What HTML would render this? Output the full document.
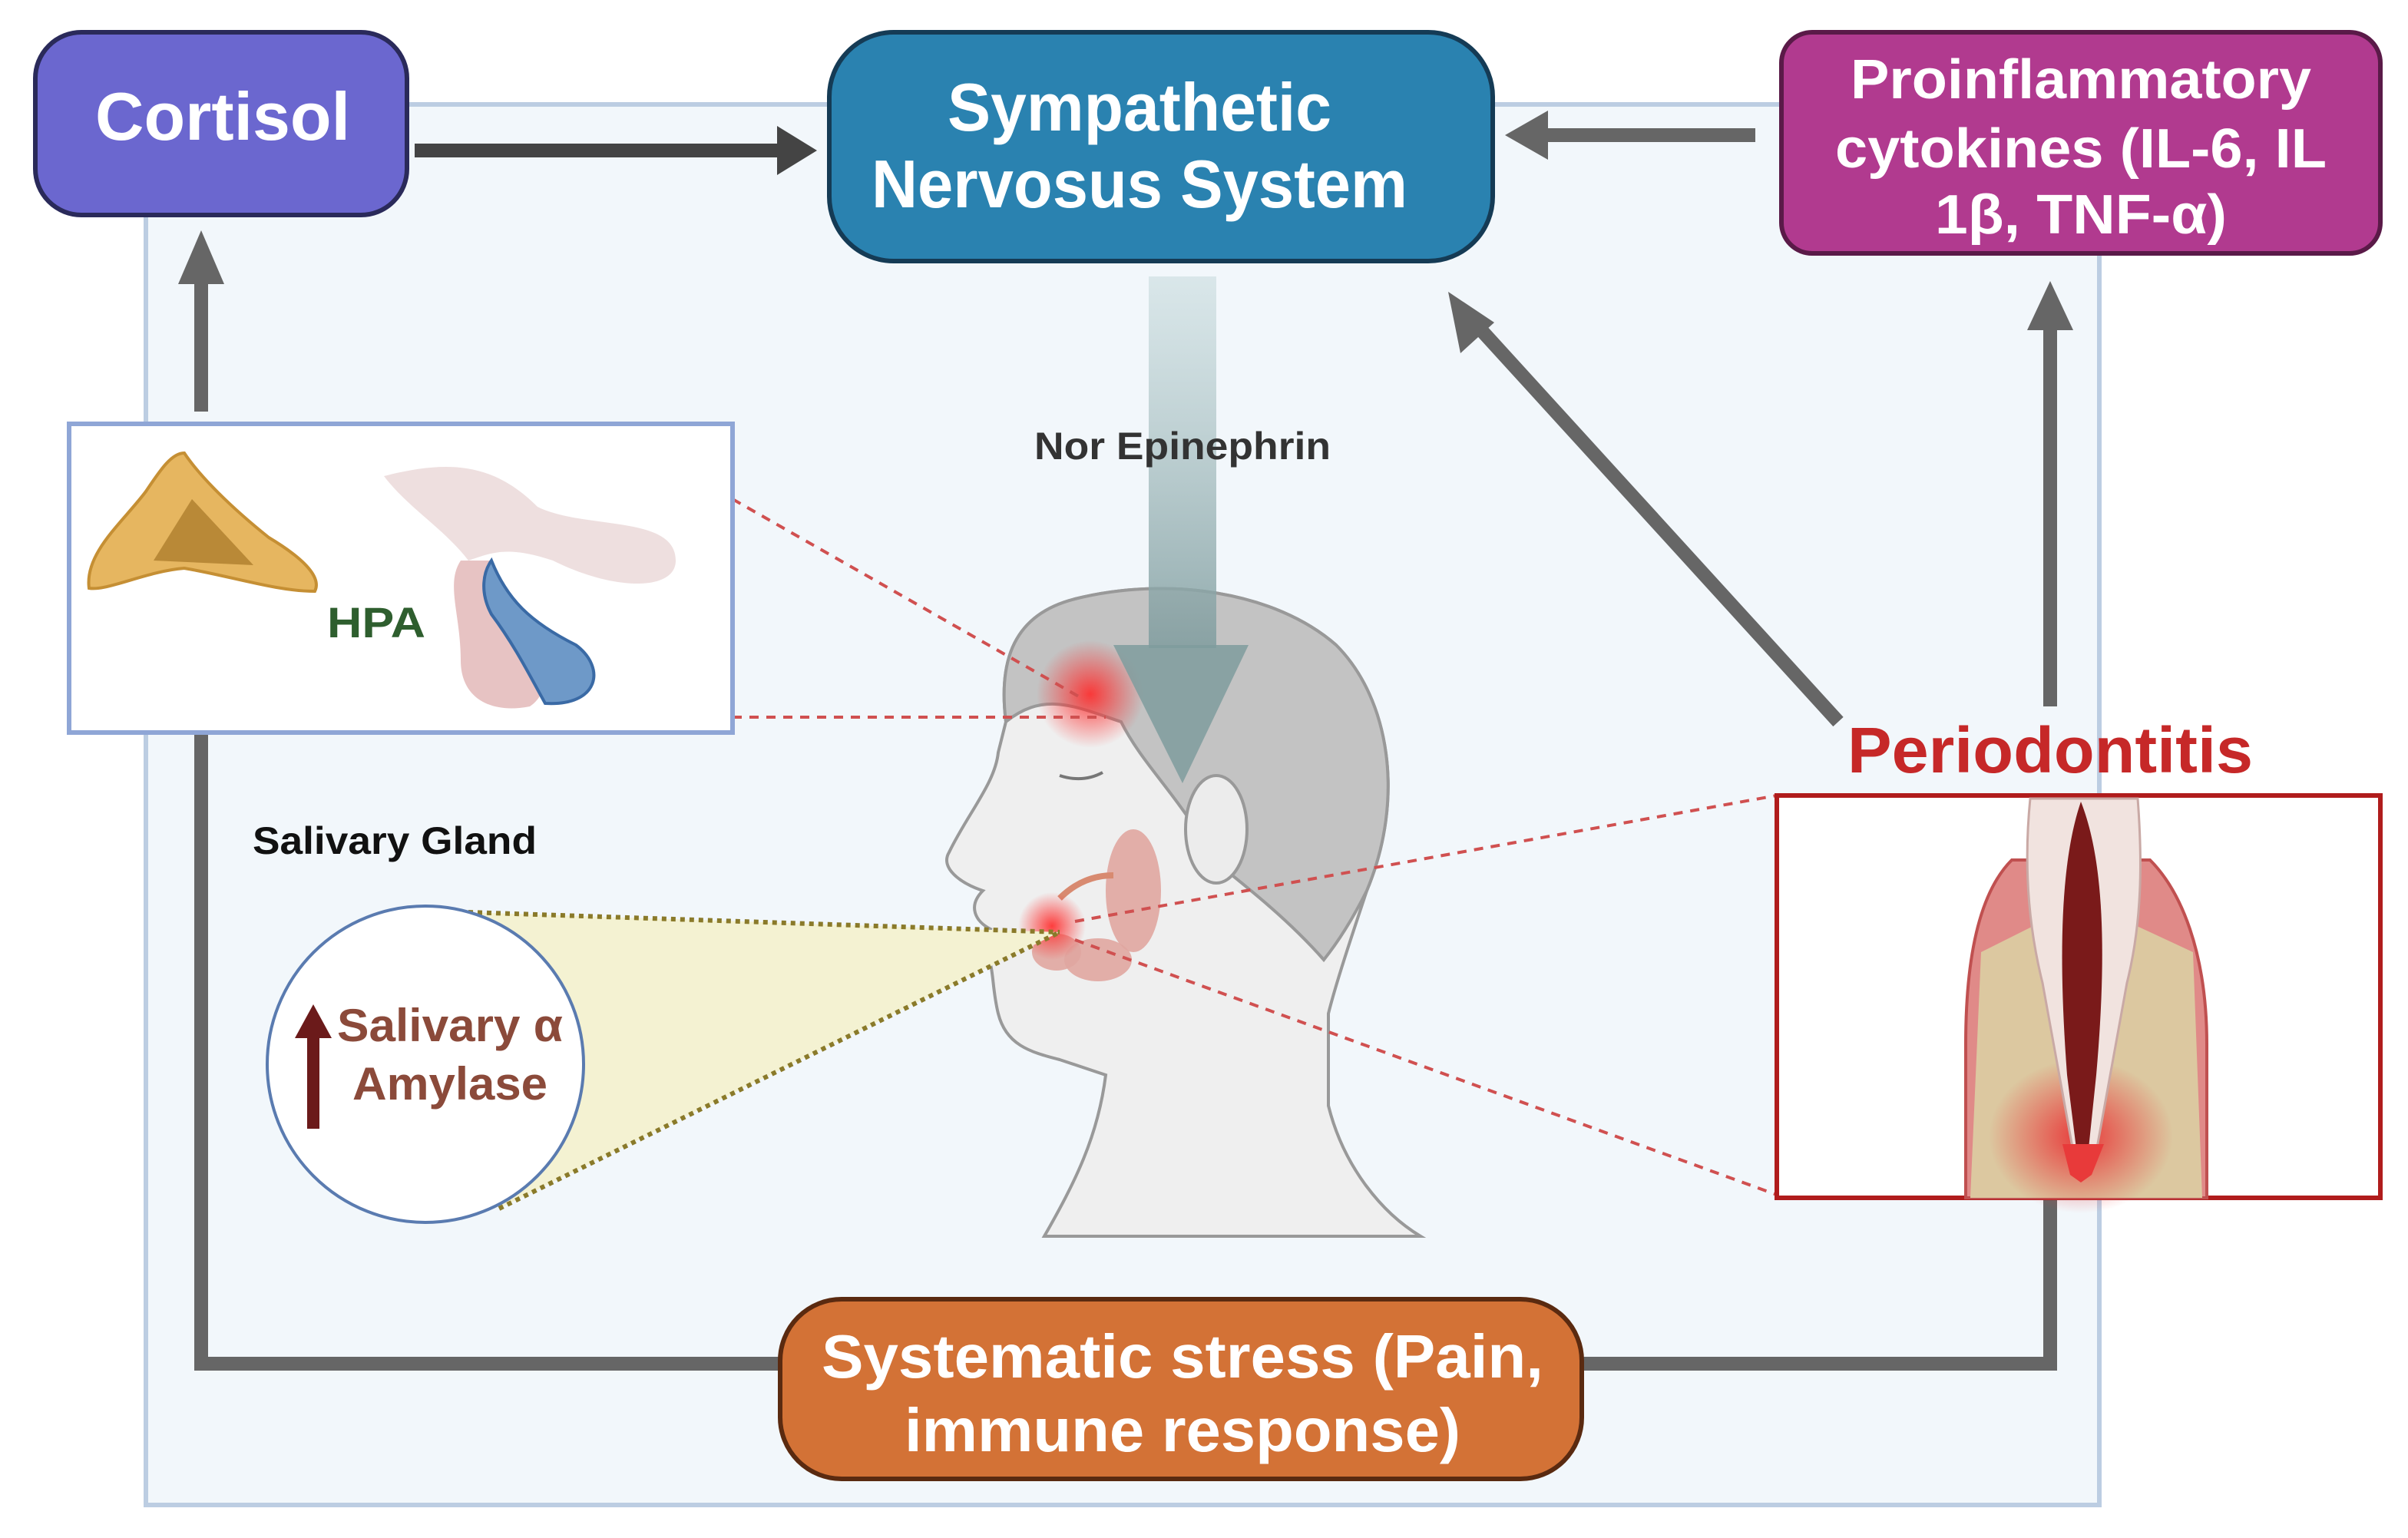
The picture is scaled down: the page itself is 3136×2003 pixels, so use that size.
<!DOCTYPE html>
<html><head><meta charset="utf-8"><style>
html,body{margin:0;padding:0;background:#fff;}
svg{display:block;}
text{font-family:"Liberation Sans",sans-serif;font-weight:bold;}
</style></head><body>
<svg width="3136" height="2003" viewBox="0 0 1568 1001.5" xmlns="http://www.w3.org/2000/svg">
<defs>
<linearGradient id="ne" x1="0" y1="0" x2="0" y2="1">
<stop offset="0" stop-color="#c9dcde" stop-opacity="0.6"/>
<stop offset="1" stop-color="#7f9c9e" stop-opacity="0.85"/>
</linearGradient>
<radialGradient id="glow"><stop offset="0" stop-color="#ff2a2a" stop-opacity="0.9"/><stop offset="1" stop-color="#ff2a2a" stop-opacity="0"/></radialGradient>
<radialGradient id="inf"><stop offset="0" stop-color="#e83a3a"/><stop offset="1" stop-color="#e83a3a" stop-opacity="0"/></radialGradient>
</defs>
<!-- panel -->
<rect x="95" y="68" width="1272" height="912" fill="#f2f7fb" stroke="#bccde2" stroke-width="3"/>

<!-- connectors -->
<g stroke="#666" stroke-width="9" fill="none">
<line x1="131" y1="268" x2="131" y2="175"/>
<polyline points="1335,780 1335,888 131,888 131,420"/>
<line x1="1335" y1="460" x2="1335" y2="210"/>
<line x1="1197" y1="470" x2="960" y2="210"/>
<line x1="1143" y1="88" x2="1005" y2="88"/>
</g>
<line x1="270" y1="98" x2="508" y2="98" stroke="#444" stroke-width="9"/>
<g fill="#666">
<polygon points="131,150 116,185 146,185"/>
<polygon points="131,390 116,425 146,425"/>
<polygon points="1335,183 1320,215 1350,215"/>
<polygon points="943,190 951,230 973,210"/>
<polygon points="980,88 1008,72 1008,104"/>
</g>
<polygon points="532,98 506,82 506,114" fill="#444"/>

<!-- head -->
<g>
<path d="M655,470 C650,430 660,400 700,390 C760,375 830,385 870,420 C905,455 915,520 890,580 C880,610 870,640 865,660 L865,720 C875,760 900,790 925,805 L680,805 C700,770 715,740 720,700 L690,690 C670,685 655,680 650,660 C645,640 648,625 640,620 L645,605 C635,600 630,590 640,580 C625,575 612,565 618,555 C630,530 648,510 650,490 Z" fill="#efefef" stroke="#999" stroke-width="2"/>
<path d="M655,470 C650,430 660,400 700,390 C760,375 830,385 870,420 C905,455 915,520 890,580 C880,600 870,615 862,625 C840,600 815,580 790,560 C770,520 745,500 730,470 C700,460 680,450 655,470 Z" fill="#c3c3c3" stroke="#999" stroke-width="2"/>
<ellipse cx="792" cy="540" rx="20" ry="35" fill="#ececec" stroke="#999" stroke-width="2"/>
<path d="M690,505 q15,5 28,-2" stroke="#777" stroke-width="2" fill="none"/>
<ellipse cx="738" cy="580" rx="18" ry="40" fill="#e0a6a0" opacity="0.9"/>
<ellipse cx="715" cy="625" rx="22" ry="14" fill="#e0a6a0" opacity="0.9"/>
<ellipse cx="688" cy="620" rx="16" ry="12" fill="#e0a6a0" opacity="0.9"/>
<path d="M690,585 q15,-15 35,-15" stroke="#d88a70" stroke-width="4" fill="none"/>
<circle cx="710" cy="452" r="35" fill="url(#glow)"/>
<circle cx="685" cy="603" r="22" fill="url(#glow)"/>
</g>

<!-- NE arrow -->
<rect x="748" y="180" width="44" height="242" fill="url(#ne)"/>
<polygon points="725,420 813,420 770,510" fill="#7f9c9e" opacity="0.85"/>
<text x="770" y="299" font-size="25" fill="#333" text-anchor="middle" textLength="193" lengthAdjust="spacingAndGlyphs">Nor Epinephrin</text>

<!-- red dashed -->
<g stroke="#d05050" stroke-width="2" stroke-dasharray="6,5" fill="none">
<line x1="477" y1="325" x2="705" y2="455"/>
<line x1="477" y1="467" x2="720" y2="467"/>
<line x1="700" y1="600" x2="1157" y2="518"/>
<line x1="700" y1="612" x2="1157" y2="778"/>
</g>

<!-- HPA box -->
<rect x="45" y="276" width="432" height="201" fill="#fff" stroke="#8fa6d6" stroke-width="3"/>
<path d="M120,295 C130,310 150,330 175,350 C195,362 210,375 205,385 C180,385 150,375 120,370 C95,372 70,385 58,383 C55,360 80,340 95,320 C105,305 112,295 120,295 Z" fill="#e6b660" stroke="#c58f34" stroke-width="2"/>
<path d="M125,325 L100,365 L165,368 Z" fill="#9b6a1c" opacity="0.6"/>
<path d="M250,310 C290,300 320,300 350,330 C380,345 440,335 440,365 C440,385 400,385 360,365 C330,355 320,360 305,365 C290,345 265,330 250,310 Z" fill="#ecdcdc" opacity="0.9"/>
<path d="M300,365 C290,380 300,400 300,430 C300,455 320,465 345,460 C360,450 355,430 345,410 C330,390 325,375 320,365 Z" fill="#e7c3c3"/>
<path d="M320,365 C330,390 345,405 375,420 C395,435 390,460 355,458 C345,440 335,420 320,400 C312,385 315,372 320,365 Z" fill="#6e99c8" stroke="#3a6aa5" stroke-width="2"/>
<text x="245" y="415" font-size="28" fill="#2e5e2e" text-anchor="middle" textLength="64" lengthAdjust="spacingAndGlyphs">HPA</text>

<!-- salivary -->
<text x="257" y="556" font-size="25" fill="#111" text-anchor="middle" textLength="185" lengthAdjust="spacingAndGlyphs">Salivary Gland</text>
<polygon points="305,594 690,607 325,787" fill="#f4f2d2"/>
<g stroke="#8a7a2a" stroke-width="3" stroke-dasharray="3,3" fill="none">
<line x1="305" y1="594" x2="690" y2="607"/>
<line x1="325" y1="787" x2="690" y2="607"/>
</g>
<ellipse cx="277" cy="693" rx="103" ry="103" fill="#fff" stroke="#5a7bb0" stroke-width="2"/>
<line x1="204" y1="735" x2="204" y2="672" stroke="#6b1a1a" stroke-width="8"/>
<polygon points="204,654 192,676 216,676" fill="#6b1a1a"/>
<text x="293" y="678" font-size="30" fill="#8b4a3a" text-anchor="middle" textLength="147" lengthAdjust="spacingAndGlyphs">Salivary α</text>
<text x="293" y="716" font-size="30" fill="#8b4a3a" text-anchor="middle" textLength="127" lengthAdjust="spacingAndGlyphs">Amylase</text>

<!-- periodontitis -->
<text x="1335" y="503" font-size="42" fill="#c62828" text-anchor="middle" textLength="264" lengthAdjust="spacingAndGlyphs">Periodontitis</text>
<rect x="1157" y="518" width="393" height="262" fill="#fff" stroke="#b01c1c" stroke-width="3"/>
<path d="M1280,780 L1280,680 C1280,620 1290,580 1310,560 L1400,560 C1420,580 1437,620 1437,680 L1437,780 Z" fill="#e08a88" stroke="#c05050" stroke-width="2"/>
<path d="M1283,780 L1290,620 L1330,600 L1385,600 L1428,620 L1434,780 Z" fill="#dcc8a0"/>
<ellipse cx="1355" cy="740" rx="60" ry="50" fill="url(#inf)"/>
<path d="M1322,520 L1392,520 C1395,560 1395,600 1385,640 L1365,750 L1350,750 L1330,640 C1320,600 1318,560 1322,520 Z" fill="#f1e3df" stroke="#c9a9a5" stroke-width="1.5"/>
<path d="M1355,522 C1370,560 1372,620 1365,700 L1360,748 L1352,748 L1346,700 C1340,620 1342,560 1355,522 Z" fill="#7a1a1a"/>
<path d="M1343,745 L1370,745 L1362,765 L1355,770 L1348,765 Z" fill="#e83a3a"/>

<!-- boxes -->
<rect x="23" y="21" width="242" height="119" rx="30" fill="#6b67cf" stroke="#2a2a5a" stroke-width="3"/>
<text x="145" y="91" font-size="44" fill="#fff" text-anchor="middle" textLength="166" lengthAdjust="spacingAndGlyphs">Cortisol</text>

<rect x="540" y="21" width="432" height="149" rx="42" fill="#2a82b0" stroke="#153b55" stroke-width="3"/>
<text x="742" y="85" font-size="44" fill="#fff" text-anchor="middle" textLength="250" lengthAdjust="spacingAndGlyphs">Sympathetic</text>
<text x="742" y="135" font-size="44" fill="#fff" text-anchor="middle" textLength="349" lengthAdjust="spacingAndGlyphs">Nervosus System</text>

<rect x="1160" y="21" width="390" height="144" rx="20" fill="#b13a8f" stroke="#5a1a48" stroke-width="3"/>
<text x="1355" y="64" font-size="36" fill="#fff" text-anchor="middle" textLength="300" lengthAdjust="spacingAndGlyphs">Proinflammatory</text>
<text x="1355" y="109" font-size="36" fill="#fff" text-anchor="middle" textLength="320" lengthAdjust="spacingAndGlyphs">cytokines (IL-6, IL</text>
<text x="1355" y="152" font-size="36" fill="#fff" text-anchor="middle" textLength="190" lengthAdjust="spacingAndGlyphs">1β, TNF-α)</text>

<rect x="508" y="846" width="522" height="117" rx="40" fill="#d37236" stroke="#5a2a10" stroke-width="3"/>
<text x="770" y="897" font-size="40" fill="#fff" text-anchor="middle" textLength="470" lengthAdjust="spacingAndGlyphs">Systematic stress (Pain,</text>
<text x="770" y="945" font-size="40" fill="#fff" text-anchor="middle" textLength="362" lengthAdjust="spacingAndGlyphs">immune response)</text>
</svg>
</body></html>
